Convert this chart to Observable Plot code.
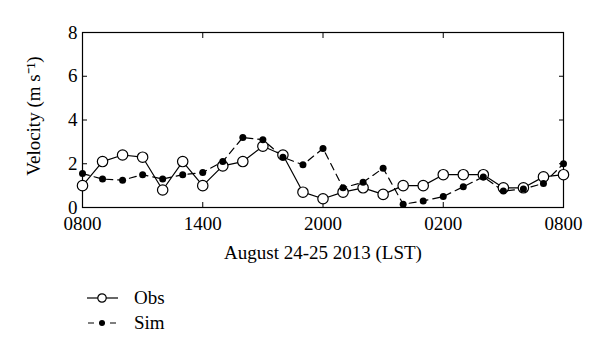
<!DOCTYPE html>
<html><head><meta charset="utf-8">
<script src="https://cdn.jsdelivr.net/npm/d3@7"></script>
<script src="https://cdn.jsdelivr.net/npm/@observablehq/plot@0.6"></script>
<style>
body{margin:0;background:#fff;font-family:'Liberation Serif',serif;color:#000;position:relative;width:600px;height:354px;overflow:hidden;}
#legend{position:absolute;left:0;top:286px;}
.row{position:relative;height:25px;width:300px;}
.row svg{position:absolute;left:85px;top:2px;}
.row span{position:absolute;left:134px;top:0px;font-size:19px;line-height:24px;}
</style></head><body>
<div id="chart"></div>
<div id="legend"></div>
<script>
const hours = [0,1,2,3,4,5,6,7,8,9,10,11,12,13,14,15,16,17,18,19,20,21,22,23,24];
const obs = [1.0,2.1,2.4,2.3,0.8,2.1,1.0,1.9,2.1,2.8,2.4,0.7,0.4,0.7,0.9,0.6,1.0,1.0,1.5,1.5,1.5,0.9,0.9,1.4,1.5];
const sim = [1.55,1.3,1.25,1.5,1.3,1.5,1.6,2.1,3.2,3.1,2.3,1.95,2.7,0.9,1.15,1.8,0.15,0.3,0.5,0.95,1.4,0.75,0.85,1.1,2.0];
const xTickPos = [0,6,12,18,24];
const xTickLabels = ["0800","1400","2000","0200","0800"];
const yTicks = [0,2,4,6,8];
const xLabel = "August 24-25 2013 (LST)";
const yLabel = "Velocity (m s\u207B\u00B9)";
const seriesNames = ["Obs","Sim"];

const rows = hours.map((h,i)=>({h, obs:obs[i], sim:sim[i]}));
const fmtX = d => xTickLabels[xTickPos.indexOf(d)];

const chart = Plot.plot({
  width:600, height:275,
  marginLeft:82, marginRight:37, marginTop:32, marginBottom:68,
  style:{fontFamily:"'Liberation Serif', serif", fontSize:"19px", color:"black", background:"white"},
  x:{domain:[0,24]},
  y:{domain:[0,8]},
  marks:[
    Plot.axisX(xTickPos,{anchor:"bottom", tickSize:0, tickPadding:9, tickFormat:fmtX, label:null}),
    Plot.axisX(xTickPos,{anchor:"bottom", tickSize:5, dy:-5, fill:"none", label:null}),
    Plot.axisX(xTickPos,{anchor:"top", tickSize:5, dy:5, fill:"none", label:null}),
    Plot.axisY(yTicks,{anchor:"left", tickSize:0, tickPadding:5, label:null}),
    Plot.axisY(yTicks,{anchor:"left", tickSize:5, dx:5, fill:"none", label:null}),
    Plot.axisY(yTicks,{anchor:"right", tickSize:5, dx:-5, fill:"none", label:null}),
    Plot.frame({stroke:"black", strokeWidth:1.2}),
    Plot.text([xLabel],{frameAnchor:"bottom", textAnchor:"middle", dy:51, text:d=>d}),
    Plot.text([yLabel],{frameAnchor:"left", textAnchor:"middle", rotate:-90, dx:-49, dy:-4, text:d=>d}),
    Plot.line(rows,{x:"h", y:"sim", stroke:"black", strokeWidth:1.2, strokeDasharray:"7,5"}),
    Plot.line(rows,{x:"h", y:"obs", stroke:"black", strokeWidth:1.2}),
    Plot.dot(rows,{x:"h", y:"obs", r:5.2, stroke:"black", strokeWidth:1.2, fill:"white"}),
    Plot.dot(rows,{x:"h", y:"sim", r:3.5, fill:"black", stroke:"none"})
  ]
});
document.getElementById("chart").append(chart);

const leg = document.getElementById("legend");
leg.innerHTML = `
<div class="row"><svg width="36" height="20"><line x1="2" y1="10" x2="33" y2="10" stroke="black" stroke-width="1.2"/><circle cx="17" cy="10" r="4.2" fill="white" stroke="black" stroke-width="1.2"/></svg><span>${seriesNames[0]}</span></div>
<div class="row"><svg width="36" height="20"><line x1="2" y1="10" x2="33" y2="10" stroke="black" stroke-width="1.2" stroke-dasharray="6,5" stroke-dashoffset="-1"/><circle cx="17" cy="10" r="3" fill="black"/></svg><span>${seriesNames[1]}</span></div>`;
</script>
</body></html>
